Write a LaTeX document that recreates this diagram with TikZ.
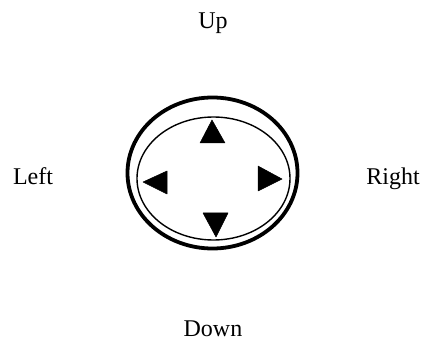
\documentclass[tikz,border=0pt]{standalone}
\usepackage{fontspec}
\setmainfont{Liberation Serif}
\begin{document}
\begin{tikzpicture}[x=1pt,y=-1pt,
  lbl/.style={anchor=base,inner sep=0pt,font=\fontsize{24}{28}\selectfont},
  arrowtri/.style={fill=black,draw=black,line width=0.5pt,line join=round}]
\useasboundingbox (0,0) rectangle (424,345);
% pad
\draw[line width=3.8pt] (212.5,173) ellipse [x radius=85pt, y radius=75.5pt];
\draw[line width=1.4pt] (213.5,178.5) ellipse [x radius=76.5pt, y radius=61.5pt];
% direction triangles
\fill[arrowtri] (212,120) -- (225,143) -- (200,143) -- cycle;
\fill[arrowtri] (203,213) -- (228,213) -- (216,237) -- cycle;
\fill[arrowtri] (143,182) -- (167,171) -- (167,194) -- cycle;
\fill[arrowtri] (282,179) -- (258,166) -- (258,191) -- cycle;
% labels
\node[lbl] (up) at (213,29) {Up};
\node[lbl] (left) at (33,185) {Left};
\node[lbl] (right) at (393,185) {Right};
\node[lbl] (down) at (213,337) {Down};
\end{tikzpicture}
\end{document}
